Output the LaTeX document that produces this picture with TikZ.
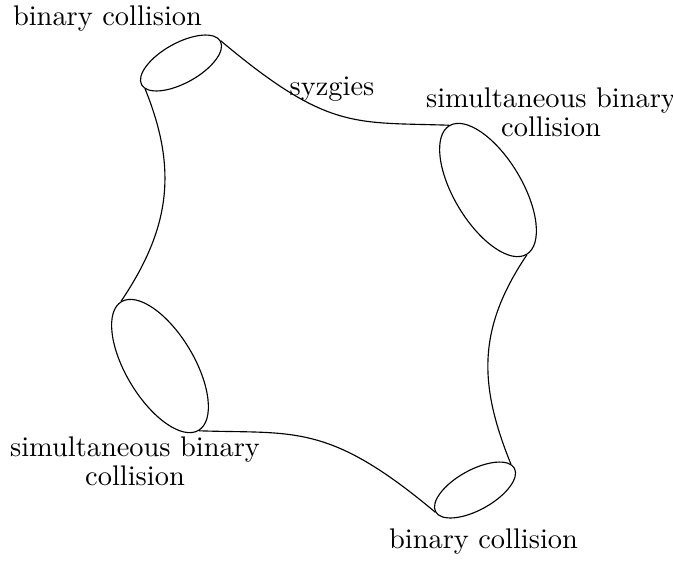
\documentclass[tikz,border=0pt]{standalone}
\usetikzlibrary{shapes.geometric}
\begin{document}
\begin{tikzpicture}[x=0.352pt,y=0.352pt,
  smallell/.style={draw,ellipse,inner sep=0pt,minimum width=90*0.352pt,minimum height=40*0.352pt,rotate=29},
  bigell/.style={draw,ellipse,inner sep=0pt,minimum width=150*0.352pt,minimum height=68*0.352pt,rotate=-59},
  lbl/.style={anchor=base,inner sep=0pt,align=center,font=\fontsize{10}{12}\selectfont},
  link/.style={draw,line width=0.4pt}]
\useasboundingbox (0,0) rectangle (673,560);
\node[smallell] (TL) at (181,497) {};
\node[bigell]   (R)  at (488,370) {};
\node[bigell]   (BL) at (160,194) {};
\node[smallell] (BR) at (475,70) {};
\node[lbl] (tllab) at (107.5,535) {binary collision};
\node[lbl] (syz) at (332,465) {syzgies};
\node[lbl] (rlab) at (551,424) {simultaneous binary\\[-2pt]collision};
\node[lbl] (bllab) at (135,75) {simultaneous binary\\[-2pt]collision};
\node[lbl] (brlab) at (483.5,12) {binary collision};
\path[link] (TL.east) .. controls +(-40:140) and +(178:95) .. (R.west);
\path[link] (BR.west) .. controls +(140:140) and +(-2:95) .. (BL.east);
\path[link] (TL.187) .. controls +(-68:85) and +(56:90) .. (BL.west);
\path[link] (BR.7) .. controls +(112:85) and +(236:90) .. (R.east);
\end{tikzpicture}
\end{document}
